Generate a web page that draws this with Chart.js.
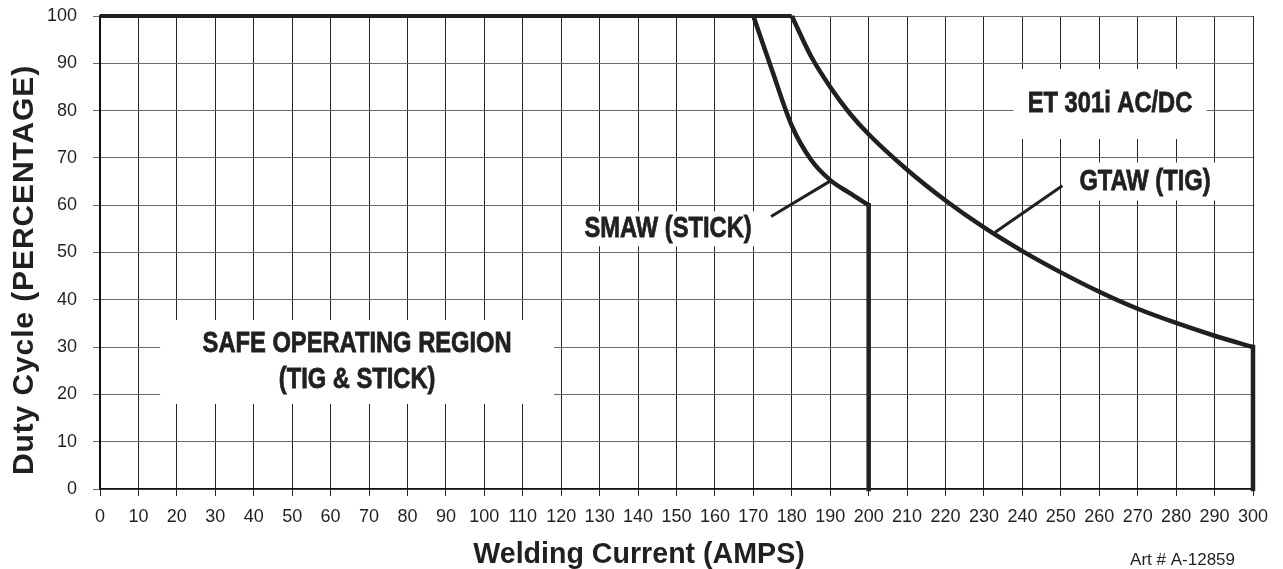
<!DOCTYPE html>
<html>
<head>
<meta charset="utf-8">
<title>ET 301i AC/DC duty cycle</title>
<script src="https://cdn.jsdelivr.net/npm/chart.js@4.4.0/dist/chart.umd.min.js"></script>
<style>
    html, body { margin: 0; padding: 0; background: #fff; }
    #wrap { width: 1283px; height: 569px; }
</style>
</head>
<body>
<div id="wrap"><canvas id="chart" width="1283" height="569"></canvas></div>
<script>
// Duty cycle readings (amps -> percent) taken off the rating chart
const topAmps = [0, 180];
const topDuty = [100, 100];

const tigAmps = [180, 185, 190, 195, 200, 210, 220, 230, 240, 250, 260, 270, 280, 290, 300];
const tigDuty = [100, 91.5, 85, 79.5, 75, 67.5, 61, 55.3, 50.3, 45.8, 41.7, 38.1, 35.1, 32.4, 30];

const stickAmps = [170, 175, 180, 185, 190, 195, 200];
const stickDuty = [100, 88.2, 76.8, 69.6, 65.3, 62.6, 60];

// vertical cut-offs at the rated maximum current
const tigDropAmps = [300, 300];
const tigDropDuty = [30, 0];
const stickDropAmps = [200, 200];
const stickDropDuty = [60, 0];

// leader lines from the process labels to their curves
const smawLeaderAmps = [174.6, 190.4];
const smawLeaderDuty = [57.6, 65.3];
const gtawLeaderAmps = [250.4, 232.9];
const gtawLeaderDuty = [64.1, 54.3];

// axis ranges / tick steps
const ampRange = [0, 300];
const dutyRange = [0, 100];
const tickStep = 10;

const labelTexts = [
    ['ET 301i AC/DC'],
    ['GTAW (TIG)'],
    ['SMAW (STICK)'],
    ['SAFE OPERATING REGION', '(TIG & STICK)'],
];

const ink = '#231f20';
const labelSqueeze = 0.79; // no condensed face installed, so squeeze the bold one

// where each label sits (data units) and the size of the white box behind it (px)
const labelSpots = [
    { amps: 262.8, duty: 81.4, boxW: 193, boxH: 70 },
    { amps: 271.9, duty: 65.0, boxW: 146, boxH: 38 },
    { amps: 147.8, duty: 55.0, boxW: 185, boxH: 35 },
    { amps: 66.9, duty: 26.85, boxW: 394, boxH: 84 },
];

const toPoints = (xs, ys) => xs.map((v, i) => ({ x: v, y: ys[i] }));

const lineSet = (xs, ys, extra) => Object.assign({
    data: toPoints(xs, ys),
    borderColor: ink,
    borderWidth: 4.5,
    pointRadius: 0,
    fill: false,
    clip: 6,
}, extra || {});

const labelPlugin = {
    id: 'chartLabels',
    beforeDatasetsDraw(chart) {
        const { ctx, scales: { x, y } } = chart;
        ctx.save();
        labelSpots.forEach((spot, i) => {
            const cx = x.getPixelForValue(spot.amps);
            const cy = y.getPixelForValue(spot.duty);
            ctx.fillStyle = '#fff';
            ctx.fillRect(cx - spot.boxW / 2, cy - spot.boxH / 2, spot.boxW, spot.boxH);

            ctx.fillStyle = ink;
            ctx.strokeStyle = ink;
            ctx.lineWidth = 0.8;
            ctx.font = 'bold 30px "Liberation Sans", Arial, sans-serif';
            ctx.textAlign = 'center';
            ctx.textBaseline = 'middle';
            const lines = labelTexts[i];
            lines.forEach((t, k) => {
                ctx.save();
                ctx.translate(cx, cy + (k - (lines.length - 1) / 2) * 36);
                ctx.scale(labelSqueeze, 1);
                ctx.fillText(t, 0, 0);
                ctx.strokeText(t, 0, 0); // heavier strokes, like the condensed face
                ctx.restore();
            });
        });
        ctx.restore();
    },
    afterDraw(chart) {
        const { ctx, chartArea } = chart;
        ctx.save();
        ctx.fillStyle = ink;

        // x axis title (sits a little left of centre in the original)
        ctx.font = 'bold 28.6px "Liberation Sans", Arial, sans-serif';
        ctx.textAlign = 'center';
        ctx.textBaseline = 'alphabetic';
        ctx.fillText('Welding Current (AMPS)', 639, chartArea.bottom + 74);

        // y axis title
        ctx.save();
        ctx.translate(33, 270);
        ctx.rotate(-Math.PI / 2);
        ctx.font = 'bold 30px "Liberation Sans", Arial, sans-serif';
        ctx.letterSpacing = '0.9px';
        ctx.fillText('Duty Cycle (PERCENTAGE)', 0, 0);
        ctx.restore();

        // art number
        ctx.font = '17px "Liberation Sans", Arial, sans-serif';
        ctx.textAlign = 'right';
        ctx.fillText('Art # A-12859', 1235, 565);
        ctx.restore();
    },
};

const tickFont = { family: '"Liberation Sans", Arial, sans-serif', size: 18 };

new Chart(document.getElementById('chart'), {
    type: 'line',
    data: {
        datasets: [
            lineSet(topAmps, topDuty, { borderWidth: 4 }),
            lineSet(tigAmps, tigDuty, { cubicInterpolationMode: 'monotone', tension: 0.4 }),
            lineSet(stickAmps, stickDuty, { cubicInterpolationMode: 'monotone', tension: 0.4 }),
            lineSet(tigDropAmps, tigDropDuty, { borderCapStyle: 'square' }),
            lineSet(stickDropAmps, stickDropDuty, { borderCapStyle: 'square' }),
            lineSet(smawLeaderAmps, smawLeaderDuty, { borderWidth: 3 }),
            lineSet(gtawLeaderAmps, gtawLeaderDuty, { borderWidth: 3 }),
        ],
    },
    options: {
        responsive: false,
        animation: false,
        layout: {
            padding: { left: 0, right: 30, top: 16, bottom: 0 },
        },
        plugins: {
            legend: { display: false },
            tooltip: { enabled: false },
        },
        scales: {
            x: {
                type: 'linear',
                min: ampRange[0],
                max: ampRange[1],
                ticks: {
                    stepSize: tickStep,
                    autoSkip: false,
                    maxRotation: 0,
                    padding: 10,
                    color: ink,
                    font: tickFont,
                },
                grid: {
                    color: '#262626',
                    lineWidth: 1,
                    tickLength: 7,
                },
                border: { color: '#111', width: 1.5 },
                afterFit(scale) {
                    scale.height = 80;
                    scale.paddingLeft = 0;
                    scale.paddingRight = 0;
                },
            },
            y: {
                min: dutyRange[0],
                max: dutyRange[1],
                ticks: {
                    stepSize: tickStep,
                    padding: 16,
                    color: ink,
                    font: tickFont,
                },
                grid: {
                    color: '#6a6a6a',
                    lineWidth: 1,
                    tickLength: 7,
                },
                border: { color: '#111', width: 2 },
                afterFit(scale) {
                    scale.width = 100;
                    scale.paddingTop = 0;
                    scale.paddingBottom = 0;
                },
            },
        },
    },
    plugins: [labelPlugin],
});
</script>
</body>
</html>
